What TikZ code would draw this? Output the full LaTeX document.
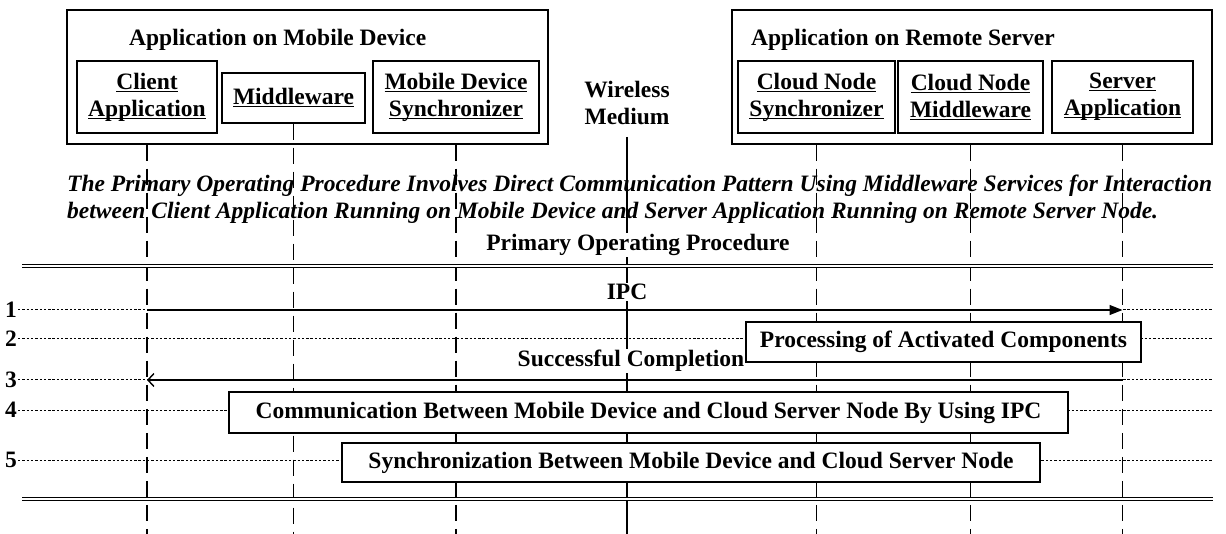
\documentclass[tikz,border=0pt]{standalone}
\usepackage{fontspec}
\setmainfont{Liberation Serif}
\usetikzlibrary{arrows.meta}
\newcommand{\ulx}[1]{\setbox0=\hbox{#1}\rlap{\rule[-2.6pt]{\wd0}{1.2pt}}\box0}
\tikzset{
  big/.style={font=\fontsize{23.5}{27}\selectfont\bfseries},
  outerbox/.style={draw, line width=1.5pt, inner sep=0pt},
  comp/.style={draw, line width=1.4pt, fill=white, align=center, inner sep=0pt, big},
  lifeline/.style={line width=1.3pt, dash pattern=on 16pt off 8pt},
  rowline/.style={line width=1pt, dash pattern=on 2.4pt off 1.9pt},
  msg/.style={line width=1.4pt},
  lbl/.style={big, inner sep=1pt},
  wlbl/.style={big, inner sep=1pt, fill=white},
  dbl/.style={double, double distance=2.4pt, line width=1.1pt},
  actbox/.style={draw, line width=1.4pt, fill=white, inner sep=0pt, big},
}
\begin{document}
\begin{tikzpicture}[x=1pt, y=-1pt]
\useasboundingbox (0,0) rectangle (1226,534);
% outer boxes
\node[outerbox, minimum width=481pt, minimum height=134pt] (mob) at (307.5,77) {};
\node[outerbox, minimum width=480pt, minimum height=134pt] (srv) at (972,77) {};
\node[lbl, anchor=west] (mobt) at (128,40) {Application on Mobile Device};
\node[lbl, anchor=west] (srvt) at (750,40) {Application on Remote Server};
% components
\node[comp, minimum width=140pt, minimum height=72pt] (cli) at (147,97) {\ulx{Client}\\\ulx{Application}};
\node[comp, minimum width=143pt, minimum height=50pt] (mw) at (293.5,98) {\ulx{Middleware}};
\node[comp, minimum width=166pt, minimum height=72pt] (msync) at (456,97) {\ulx{Mobile Device}\\\ulx{Synchronizer}};
\node[comp, minimum width=157pt, minimum height=72pt] (csync) at (816.5,97) {\ulx{Cloud Node}\\\ulx{Synchronizer}};
\node[comp, minimum width=145pt, minimum height=72pt] (cmw) at (970.5,97) {\ulx{Cloud Node}\\\ulx{Middleware}};
\node[comp, minimum width=141pt, minimum height=72pt] (sapp) at (1122.5,97) {\ulx{Server}\\\ulx{Application}};
\node[lbl, align=center] (wm) at (627,103) {Wireless\\Medium};
% italic description
\node[font=\fontsize{23.5}{27}\selectfont\bfseries\itshape, anchor=west, align=left, inner sep=0pt] (desc) at (67,199)
 {The Primary Operating Procedure Involves Direct Communication Pattern Using Middleware Services for Interaction\\
  between Client Application Running on Mobile Device and Server Application Running on Remote Server Node.};
% bottom coordinates
\coordinate (bot) at (0,534);
\coordinate (wtop) at (627,137);
% lifelines
\draw[lifeline] (cli.south |- mob.south) -- (cli.south |- bot);
\draw[lifeline] (mw.south) -- (mw.south |- bot);
\draw[lifeline] (msync.south |- mob.south) -- (msync.south |- bot);
\draw[lifeline] (csync.south |- srv.south) -- (csync.south |- bot);
\draw[lifeline] (cmw.south |- srv.south) -- (cmw.south |- bot);
\draw[lifeline] (sapp.south |- srv.south) -- (sapp.south |- bot);
\draw[line width=1.3pt] (wtop) -- (wtop |- bot);
% labels
\node[wlbl] (pop) at (638,245) {Primary Operating Procedure};
\coordinate (rl1) at (22,266);
\coordinate (rr1) at (1213,266);
\draw[dbl] (rl1) -- (rr1);
\coordinate (rl2) at (22,499);
\coordinate (rr2) at (1213,499);
\draw[dbl] (rl2) -- (rr2);
% rows
\node[lbl] (n1) at (11,310) {1};
\node[lbl] (n2) at (11,339) {2};
\node[lbl] (n3) at (11,380) {3};
\node[lbl] (n4) at (11,410) {4};
\node[lbl] (n5) at (11,460) {5};
\draw[rowline] (n1.east) -- (n1.east -| rr1);
\draw[rowline] (n2.east) -- (n2.east -| rr1);
\draw[rowline] (n3.east) -- (n3.east -| rr1);
\draw[rowline] (n4.east) -- (n4.east -| rr1);
\draw[rowline] (n5.east) -- (n5.east -| rr1);
% messages
\draw[msg, -{Triangle[length=13pt,width=10pt]}] (n1 -| cli.south) -- (n1 -| sapp.south);
\node[wlbl] (ipc) at (627,292) {IPC};
\draw[msg, -{Straight Barb[length=6pt,width=13pt,line width=1.4pt]}] (n3 -| sapp.south) -- (n3 -| cli.south);
\node[wlbl] (succ) at (631,361) {Successful Completion};
% activity boxes
\node[actbox, minimum width=395pt, minimum height=40pt] (proc) at (943.5,342) {Processing of Activated Components};
\node[actbox, minimum width=839pt, minimum height=41pt] (comm) at (648.5,412.5) {Communication Between Mobile Device and Cloud Server Node By Using IPC};
\node[actbox, minimum width=698pt, minimum height=39pt] (sync) at (691,462.5) {Synchronization Between Mobile Device and Cloud Server Node};
\end{tikzpicture}
\end{document}
